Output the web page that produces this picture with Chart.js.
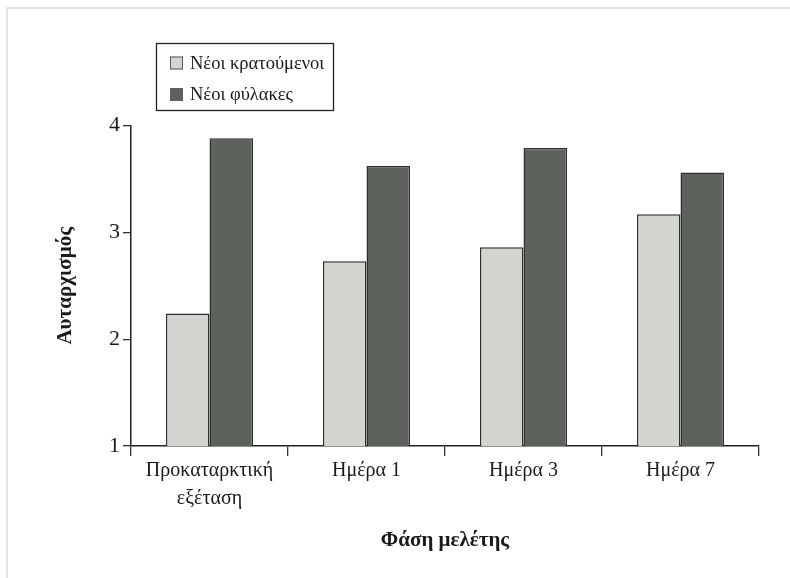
<!DOCTYPE html>
<html>
<head>
<meta charset="utf-8">
<script src="https://cdn.jsdelivr.net/npm/chart.js@4.4.1/dist/chart.umd.min.js"></script>
<style>
  html, body { margin: 0; padding: 0; background: #fff; }
  #wrap { width: 790px; height: 578px; }
</style>
</head>
<body>
<div id="wrap"><canvas id="myChart" width="790" height="578"></canvas></div>
<script>
// data
var categories = [['Προκαταρκτική', 'εξέταση'], 'Ημέρα 1', 'Ημέρα 3', 'Ημέρα 7'];
var prisoners = [2.24, 2.73, 2.86, 3.17];
var guards = [3.88, 3.62, 3.79, 3.56];
var seriesNames = ['Νέοι κρατούμενοι', 'Νέοι φύλακες'];
var yTicks = [1, 2, 3, 4];

var serif = "'Liberation Serif', 'DejaVu Serif', serif";

// faint scan frame + boxed legend
var boxLegend = {
    id: 'boxLegend',
    beforeDraw: function (chart) {
        var ctx = chart.ctx;
        ctx.save();
        ctx.strokeStyle = '#dcdcdc';
        ctx.lineWidth = 1.5;
        ctx.beginPath();
        ctx.moveTo(7, 578);
        ctx.lineTo(7, 8);
        ctx.lineTo(790, 8);
        ctx.stroke();
        ctx.restore();
    },
    afterDraw: function (chart) {
        var ctx = chart.ctx;
        var sets = chart.data.datasets;
        ctx.save();
        ctx.strokeStyle = '#222';
        ctx.lineWidth = 1.3;
        ctx.strokeRect(156.5, 43.5, 177, 67);
        ctx.font = '18.5px ' + serif;
        ctx.textBaseline = 'middle';
        for (var i = 0; i < sets.length; i++) {
            var y = 63 + i * 31.5;
            ctx.fillStyle = sets[i].backgroundColor;
            ctx.fillRect(170, y - 6.5, 13, 13);
            ctx.strokeStyle = i === 0 ? '#555' : sets[i].backgroundColor;
            ctx.lineWidth = 1;
            ctx.strokeRect(170.5, y - 6, 12, 12);
            ctx.fillStyle = '#1a1a1a';
            ctx.fillText(sets[i].label, 190, y + 1);
        }
        ctx.restore();
    }
};

var ctx = document.getElementById('myChart').getContext('2d');
var chart = new Chart(ctx, {
    type: 'bar',
    data: {
        labels: categories,
        datasets: [
            {
                label: seriesNames[0],
                data: prisoners,
                backgroundColor: '#d3d5d1',
                borderColor: '#2e2e2e',
                borderWidth: 1.5,
                categoryPercentage: 0.555,
                barPercentage: 1
            },
            {
                label: seriesNames[1],
                data: guards,
                backgroundColor: '#5d625c',
                borderColor: '#2e2e2e',
                borderWidth: 1.5,
                categoryPercentage: 0.555,
                barPercentage: 1
            }
        ]
    },
    options: {
        responsive: false,
        animation: false,
        layout: { padding: { left: 0, top: 125.5, right: 31, bottom: 0 } },
        plugins: {
            legend: { display: false },
            tooltip: { enabled: false }
        },
        scales: {
            x: {
                offset: true,
                grid: {
                    offset: true,
                    drawOnChartArea: false,
                    drawTicks: true,
                    tickLength: 10,
                    color: '#333',
                    lineWidth: 1.3
                },
                border: { display: true, color: '#222', width: 1.5 },
                ticks: {
                    color: '#1a1a1a',
                    font: { family: serif, size: 20, lineHeight: 1.4 },
                    padding: 1,
                    maxRotation: 0,
                    autoSkip: false
                },
                title: {
                    display: true,
                    text: 'Φάση μελέτης',
                    color: '#1a1a1a',
                    font: { family: serif, size: 21, weight: 'bold' },
                    padding: { top: 0, bottom: 25 }
                },
                afterFit: function (scale) { scale.height = 132; }
            },
            y: {
                min: 1,
                max: 4,
                afterBuildTicks: function (scale) {
                    scale.ticks = yTicks.map(function (v) { return { value: v }; });
                },
                grid: {
                    drawOnChartArea: false,
                    drawTicks: true,
                    tickLength: 8,
                    color: '#333',
                    lineWidth: 1.3
                },
                border: { display: true, color: '#222', width: 1.5 },
                ticks: {
                    color: '#1a1a1a',
                    font: { family: serif, size: 22 },
                    padding: 3
                },
                title: {
                    display: true,
                    text: 'Αυταρχισμός',
                    color: '#1a1a1a',
                    font: { family: serif, size: 21, weight: 'bold' },
                    padding: { top: 53, bottom: 0 }
                },
                afterFit: function (scale) { scale.width = 131; }
            }
        }
    },
    plugins: [boxLegend]
});
</script>
</body>
</html>
